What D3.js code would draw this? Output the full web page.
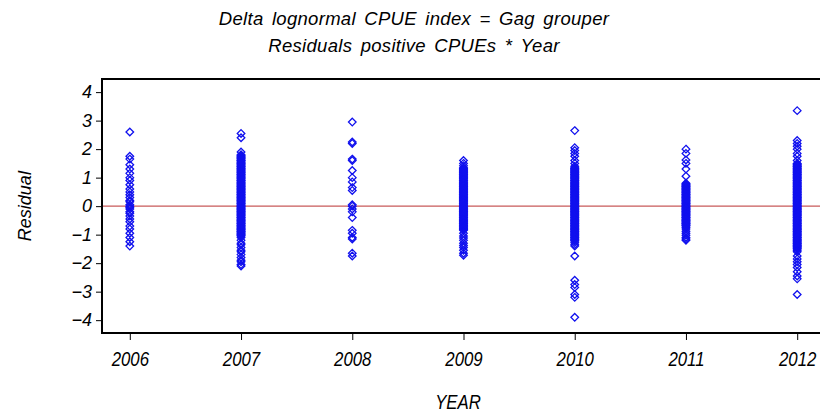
<!DOCTYPE html>
<html>
<head>
<meta charset="utf-8">
<script src="https://cdn.jsdelivr.net/npm/d3@7.9.0/dist/d3.min.js"></script>
<style>
  html, body { margin: 0; padding: 0; background: #fff; }
  svg { display: block; }
  .it { font-family: "Liberation Sans", Arial, sans-serif; font-style: italic; fill: #000; }
</style>
</head>
<body>
<div id="chart"></div>
<script>
// residuals, one list per year
const years = [2006, 2007, 2008, 2009, 2010, 2011, 2012];
const yTicks = [-4, -3, -2, -1, 0, 1, 2, 3, 4];
const titleLines = ['Delta lognormal CPUE index = Gag grouper', 'Residuals positive CPUEs * Year'];

const res2006 = [2.6, 1.75, 1.65, 1.45, 1.3, 1.15, 1.0, 0.9, 0.75, 0.6, 0.5, 0.4, 0.3, 0.2, 0.15, 0.05, 0.0,
  -0.05, -0.1, -0.2, -0.25, -0.35, -0.45, -0.55, -0.7, -0.8, -0.95, -1.1, -1.25, -1.4];
const res2007 = [2.55, 2.4, 1.9, 1.8, 1.75, 1.7, 1.65, 1.6, 1.55, 1.5, 1.45, 1.4, 1.35, 1.3, 1.25, 1.2, 1.15,
  1.1, 1.05, 1.0, 0.95, 0.9, 0.85, 0.8, 0.75, 0.7, 0.65, 0.6, 0.55, 0.5, 0.45, 0.4, 0.35, 0.3, 0.25, 0.2,
  0.15, 0.1, 0.05, 0.0, -0.05, -0.1, -0.15, -0.2, -0.25, -0.3, -0.35, -0.4, -0.45, -0.5, -0.55, -0.6,
  -0.65, -0.7, -0.75, -0.8, -0.85, -0.9, -0.95, -1.0, -1.05, -1.1, -1.2, -1.3, -1.35, -1.45, -1.55,
  -1.6, -1.7, -1.8, -1.9, -1.95, -2.05, -2.1,
  1.78, 1.72, 1.68, 1.62, 1.58, 1.52, 1.48, 1.42, 1.38, 1.32, 1.28, 1.22, 1.18, 1.12, 1.08, 1.02,
  0.98, 0.92, 0.88, 0.82, 0.78, 0.72, 0.68, 0.62, 0.58, 0.52, 0.48, 0.42, 0.38, 0.32, 0.28, 0.22,
  0.18, 0.12, 0.08, 0.02, -0.02, -0.08, -0.12, -0.18, -0.22, -0.28, -0.32, -0.38, -0.42, -0.48,
  -0.52, -0.58, -0.62, -0.68, -0.72, -0.78, -0.82, -0.88, -0.92, -0.98, -1.02];
const res2008 = [2.95, 2.25, 2.2, 1.65, 1.6, 1.25, 1.0, 0.85, 0.65, 0.55, 0.05, 0.0, -0.1, -0.2, -0.4,
  -0.85, -0.95, -1.1, -1.15, -1.65, -1.75];
const res2009 = [1.6, 1.5, 1.42, 1.35, 1.3, 1.25, 1.2, 1.15, 1.1, 1.05, 1.0, 0.95, 0.9, 0.85, 0.8, 0.75,
  0.7, 0.65, 0.6, 0.55, 0.5, 0.45, 0.4, 0.35, 0.3, 0.25, 0.2, 0.15, 0.1, 0.05, 0.0, -0.05, -0.1, -0.15,
  -0.2, -0.25, -0.3, -0.35, -0.4, -0.45, -0.5, -0.55, -0.6, -0.65, -0.7, -0.75, -0.8, -0.85, -0.95,
  -1.05, -1.12, -1.2, -1.3, -1.38, -1.45, -1.55, -1.65, -1.72,
  1.32, 1.28, 1.22, 1.18, 1.12, 1.08, 1.02, 0.98, 0.92, 0.88, 0.82, 0.78, 0.72, 0.68, 0.62, 0.58,
  0.52, 0.48, 0.42, 0.38, 0.32, 0.28, 0.22, 0.18, 0.12, 0.08, 0.02, -0.02, -0.08, -0.12, -0.18,
  -0.22, -0.28, -0.32, -0.38, -0.42, -0.48, -0.52, -0.58, -0.62, -0.68, -0.72, -0.78, -0.82];
const res2010 = [2.65, 2.05, 1.95, 1.85, 1.75, 1.6, 1.5, 1.4, 1.35, 1.3, 1.25, 1.2, 1.15, 1.1, 1.05, 1.0,
  0.95, 0.9, 0.85, 0.8, 0.75, 0.7, 0.65, 0.6, 0.55, 0.5, 0.45, 0.4, 0.35, 0.3, 0.25, 0.2, 0.15, 0.1,
  0.05, 0.0, -0.05, -0.1, -0.15, -0.2, -0.25, -0.3, -0.35, -0.4, -0.45, -0.5, -0.55, -0.6, -0.65, -0.7,
  -0.75, -0.8, -0.85, -0.9, -0.95, -1.0, -1.05, -1.1, -1.15, -1.2, -1.28, -1.35, -1.4, -1.75, -2.6,
  -2.75, -2.85, -3.1, -3.2, -3.9,
  1.32, 1.28, 1.22, 1.18, 1.12, 1.08, 1.02, 0.98, 0.92, 0.88, 0.82, 0.78, 0.72, 0.68, 0.62, 0.58,
  0.52, 0.48, 0.42, 0.38, 0.32, 0.28, 0.22, 0.18, 0.12, 0.08, 0.02, -0.02, -0.08, -0.12, -0.18,
  -0.22, -0.28, -0.32, -0.38, -0.42, -0.48, -0.52, -0.58, -0.62, -0.68, -0.72, -0.78, -0.82, -0.88,
  -0.92, -0.98, -1.02, -1.08, -1.12, -1.18, -1.22];
const res2011 = [2.0, 1.85, 1.62, 1.5, 1.3, 1.05, 0.8, 0.75, 0.7, 0.65, 0.6, 0.55, 0.5, 0.45, 0.4, 0.35,
  0.3, 0.25, 0.2, 0.15, 0.1, 0.05, 0.0, -0.05, -0.1, -0.15, -0.2, -0.25, -0.3, -0.35, -0.4, -0.45, -0.5,
  -0.55, -0.6, -0.65, -0.7, -0.75, -0.8, -0.88, -0.95, -1.02, -1.1, -1.15, -1.2,
  0.78, 0.72, 0.68, 0.62, 0.58, 0.52, 0.48, 0.42, 0.38, 0.32, 0.28, 0.22, 0.18, 0.12, 0.08, 0.02,
  -0.02, -0.08, -0.12, -0.18, -0.22, -0.28, -0.32, -0.38, -0.42, -0.48, -0.52, -0.58, -0.62, -0.68];
const res2012 = [3.35, 2.3, 2.2, 2.1, 2.0, 1.85, 1.75, 1.6, 1.5, 1.45, 1.4, 1.35, 1.3, 1.25, 1.2, 1.15,
  1.1, 1.05, 1.0, 0.95, 0.9, 0.85, 0.8, 0.75, 0.7, 0.65, 0.6, 0.55, 0.5, 0.45, 0.4, 0.35, 0.3, 0.25,
  0.2, 0.15, 0.1, 0.05, 0.0, -0.05, -0.1, -0.15, -0.2, -0.25, -0.3, -0.35, -0.4, -0.45, -0.5, -0.55,
  -0.6, -0.65, -0.7, -0.75, -0.8, -0.85, -0.9, -0.95, -1.0, -1.05, -1.1, -1.15, -1.2, -1.25, -1.3,
  -1.35, -1.4, -1.45, -1.5, -1.55, -1.6, -1.75, -1.85, -1.95, -2.05, -2.15, -2.3, -2.45, -2.55, -3.1,
  1.48, 1.42, 1.38, 1.32, 1.28, 1.22, 1.18, 1.12, 1.08, 1.02, 0.98, 0.92, 0.88, 0.82, 0.78, 0.72,
  0.68, 0.62, 0.58, 0.52, 0.48, 0.42, 0.38, 0.32, 0.28, 0.22, 0.18, 0.12, 0.08, 0.02, -0.02, -0.08,
  -0.12, -0.18, -0.22, -0.28, -0.32, -0.38, -0.42, -0.48, -0.52, -0.58, -0.62, -0.68, -0.72, -0.78,
  -0.82, -0.88, -0.92, -0.98, -1.02, -1.08, -1.12, -1.18, -1.22, -1.28, -1.32, -1.38, -1.42, -1.48];

const residuals = [res2006, res2007, res2008, res2009, res2010, res2011, res2012];

const W = 820, H = 413;
const plot = { left: 102, right: 825, top: 79, bottom: 333 };

const svg = d3.select('#chart').append('svg').attr('width', W).attr('height', H);

const x = d3.scaleLinear().domain([2005.75, 2012.25]).range([plot.left, plot.right]);
const y = d3.scaleLinear().domain([-4.45, 4.46]).range([plot.bottom, plot.top]);

// titles, SAS draws them wide and loosely spaced
svg.selectAll('text.title').data(titleLines).enter().append('text')
  .attr('class', 'it title')
  .attr('x', 414).attr('y', (d, i) => 25 + i * 27)
  .attr('text-anchor', 'middle')
  .style('font-size', '18.5px')
  .style('letter-spacing', '0.3px')
  .style('word-spacing', '3px')
  .text(d => d);

// zero reference line
svg.append('line')
  .attr('x1', plot.left).attr('x2', plot.right)
  .attr('y1', y(0)).attr('y2', y(0))
  .attr('stroke', '#c85a5a').attr('stroke-width', 1.2);

// points
const pts = [];
years.forEach((yr, i) => residuals[i].forEach(v => pts.push({ yr, v })));
const diamond = 'M0,-3.8L3.8,0L0,3.8L-3.8,0Z';
svg.append('g').selectAll('path').data(pts).enter().append('path')
  .attr('d', diamond)
  .attr('transform', d => `translate(${x(d.yr)},${y(d.v)})`)
  .attr('fill', 'none').attr('stroke', '#1010ee').attr('stroke-width', 1.3);

// axes
const fmt = d => d < 0 ? '\u2212' + Math.abs(d) : String(d);
const gy = svg.append('g').attr('transform', `translate(${plot.left},0)`)
  .call(d3.axisLeft(y).tickValues(yTicks).tickFormat(fmt).tickSize(6).tickPadding(4).tickSizeOuter(0));
gy.select('.domain').remove();
gy.selectAll('text').attr('class', 'it').style('font-size', '18px').attr('font-family', null);

const gx = svg.append('g').attr('transform', `translate(0,${plot.bottom})`)
  .call(d3.axisBottom(x).tickValues(years).tickFormat(d3.format('d')).tickSize(7).tickPadding(11).tickSizeOuter(0));
gx.select('.domain').remove();
// condensed look of the year labels
gx.selectAll('text').attr('class', 'it').style('font-size', '21px').attr('font-family', null)
  .attr('transform', 'scale(0.8,1)');

// frame
svg.append('rect')
  .attr('x', plot.left).attr('y', plot.top)
  .attr('width', plot.right - plot.left).attr('height', plot.bottom - plot.top)
  .attr('fill', 'none').attr('stroke', '#000').attr('stroke-width', 2);

// axis titles
svg.append('text').attr('class', 'it')
  .attr('transform', `translate(31,${y(0)}) rotate(-90)`)
  .attr('text-anchor', 'middle')
  .style('font-size', '18px')
  .text('Residual');

svg.append('text').attr('class', 'it')
  .attr('transform', 'translate(458,409) scale(0.8,1)')
  .attr('text-anchor', 'middle')
  .style('font-size', '21px')
  .text('YEAR');
</script>
</body>
</html>
